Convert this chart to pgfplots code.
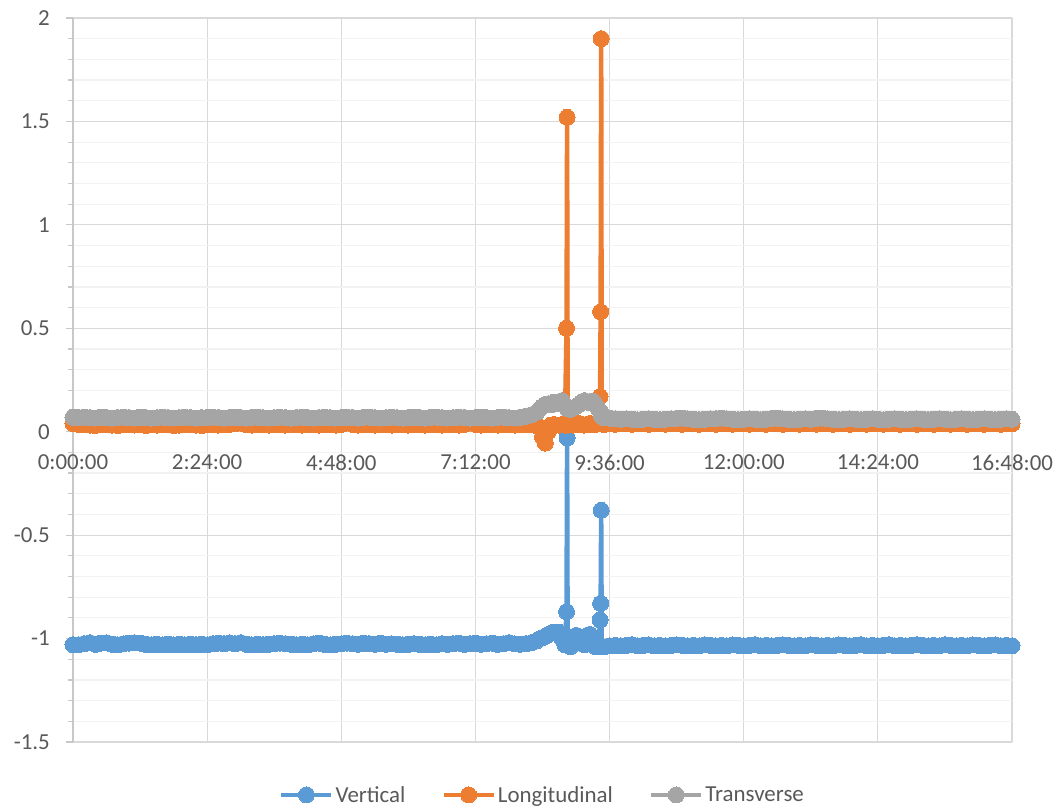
\documentclass[border=0pt]{standalone}
\usepackage{pgfplots}
\pgfplotsset{compat=1.18}
\usepackage{pgfplotstable}
\usepackage{fontspec}
\setmainfont{Carlito}

\definecolor{vert}{HTML}{5B9BD5}
\definecolor{longi}{HTML}{ED7D31}
\definecolor{trans}{HTML}{A5A5A5}
\definecolor{txt}{HTML}{595959}
\definecolor{majgrid}{HTML}{D9D9D9}
\definecolor{mingrid}{HTML}{F2F2F2}
\definecolor{axisgray}{HTML}{C8C8C8}

% time in hours, then the three accelerations
\pgfplotstableread{
t v l r
0.0 -1.030 0.040 0.070
0.1 -1.030 0.035 0.068
0.2 -1.025 0.035 0.070
0.3 -1.020 0.032 0.068
0.4 -1.028 0.030 0.066
0.5 -1.022 0.035 0.070
0.6 -1.020 0.035 0.068
0.7 -1.028 0.032 0.066
0.8 -1.030 0.030 0.068
0.9 -1.025 0.035 0.070
1.0 -1.022 0.035 0.068
1.1 -1.020 0.032 0.066
1.2 -1.022 0.035 0.070
1.3 -1.028 0.030 0.068
1.4 -1.030 0.035 0.066
1.5 -1.028 0.032 0.068
1.6 -1.030 0.035 0.070
1.7 -1.028 0.035 0.068
1.8 -1.030 0.030 0.066
1.9 -1.028 0.032 0.068
2.0 -1.030 0.035 0.070
2.1 -1.028 0.035 0.068
2.2 -1.030 0.032 0.066
2.3 -1.028 0.030 0.068
2.4 -1.030 0.035 0.069
2.5 -1.025 0.035 0.070
2.6 -1.022 0.032 0.068
2.7 -1.025 0.035 0.066
2.8 -1.020 0.035 0.068
2.9 -1.025 0.038 0.070
3.0 -1.020 0.042 0.068
3.1 -1.028 0.035 0.066
3.2 -1.030 0.032 0.069
3.3 -1.028 0.035 0.070
3.4 -1.030 0.035 0.068
3.5 -1.028 0.032 0.066
3.6 -1.025 0.035 0.068
3.7 -1.022 0.035 0.070
3.8 -1.025 0.032 0.068
3.9 -1.028 0.035 0.066
4.0 -1.030 0.035 0.068
4.1 -1.028 0.032 0.070
4.2 -1.030 0.035 0.068
4.3 -1.025 0.035 0.066
4.4 -1.022 0.032 0.068
4.5 -1.028 0.035 0.070
4.6 -1.030 0.035 0.068
4.7 -1.028 0.032 0.066
4.8 -1.025 0.035 0.068
4.9 -1.022 0.042 0.070
5.0 -1.025 0.035 0.068
5.1 -1.028 0.032 0.066
5.2 -1.022 0.035 0.069
5.3 -1.025 0.035 0.070
5.4 -1.028 0.032 0.068
5.5 -1.022 0.035 0.066
5.6 -1.028 0.035 0.068
5.7 -1.025 0.032 0.070
5.8 -1.028 0.035 0.068
5.9 -1.030 0.035 0.066
6.0 -1.028 0.032 0.068
6.1 -1.025 0.035 0.070
6.2 -1.028 0.035 0.068
6.3 -1.030 0.032 0.066
6.4 -1.028 0.035 0.069
6.5 -1.030 0.035 0.070
6.6 -1.025 0.032 0.068
6.7 -1.028 0.035 0.066
6.8 -1.025 0.035 0.068
6.9 -1.022 0.032 0.070
7.0 -1.028 0.035 0.068
7.1 -1.025 0.042 0.066
7.2 -1.022 0.035 0.068
7.3 -1.028 0.032 0.070
7.4 -1.025 0.035 0.068
7.5 -1.022 0.035 0.066
7.6 -1.028 0.032 0.069
7.7 -1.025 0.035 0.070
7.8 -1.020 0.035 0.068
7.9 -1.025 0.032 0.066
8.0 -1.028 0.035 0.069
8.1 -1.025 0.035 0.074
8.2 -1.020 0.035 0.082
8.3 -1.010 0.032 0.095
8.35 -1.000 0.020 0.110
8.4 -0.995 -0.025 0.122
8.45 -0.990 -0.055 0.132
8.5 -0.980 0.000 0.135
8.55 -0.975 0.032 0.130
8.6 -0.970 0.035 0.142
8.65 -0.975 0.032 0.135
8.7 -0.970 0.032 0.142
8.75 -1.000 0.035 0.150
8.8 -1.030 0.032 0.130
8.83 -0.870 0.500 0.120
8.84 -0.030 1.520 0.120
8.85 -1.030 0.032 0.110
8.9 -1.040 0.035 0.108
8.95 -1.000 0.032 0.115
9.0 -0.985 0.035 0.122
9.05 -0.990 0.040 0.132
9.1 -0.995 0.035 0.142
9.15 -1.030 0.032 0.150
9.2 -0.985 0.035 0.145
9.25 -0.980 0.040 0.140
9.3 -1.000 0.035 0.148
9.35 -1.040 0.035 0.130
9.4 -1.040 0.040 0.110
9.43 -0.910 0.170 0.100
9.44 -0.830 0.580 0.090
9.45 -0.380 1.900 0.082
9.46 -1.040 0.040 0.074
9.5 -1.040 0.035 0.068
9.6 -1.035 0.038 0.065
9.7 -1.033 0.036 0.062
9.8 -1.035 0.038 0.060
9.9 -1.033 0.038 0.062
10.0 -1.030 0.036 0.060
10.1 -1.035 0.038 0.058
10.2 -1.033 0.038 0.060
10.3 -1.030 0.036 0.062
10.4 -1.035 0.038 0.060
10.5 -1.033 0.038 0.058
10.6 -1.035 0.036 0.060
10.7 -1.033 0.038 0.062
10.8 -1.030 0.038 0.064
10.9 -1.033 0.036 0.066
11.0 -1.035 0.038 0.062
11.1 -1.033 0.038 0.060
11.2 -1.035 0.036 0.058
11.3 -1.030 0.038 0.060
11.4 -1.033 0.038 0.062
11.5 -1.035 0.036 0.063
11.6 -1.033 0.038 0.066
11.7 -1.035 0.038 0.062
11.8 -1.030 0.036 0.060
11.9 -1.033 0.038 0.058
12.0 -1.035 0.038 0.060
12.1 -1.033 0.036 0.062
12.2 -1.030 0.038 0.060
12.3 -1.035 0.038 0.058
12.4 -1.033 0.036 0.060
12.5 -1.035 0.038 0.064
12.6 -1.033 0.038 0.066
12.7 -1.030 0.036 0.062
12.8 -1.033 0.038 0.060
12.9 -1.035 0.038 0.058
13.0 -1.033 0.036 0.060
13.1 -1.035 0.038 0.062
13.2 -1.030 0.038 0.060
13.3 -1.033 0.036 0.064
13.4 -1.035 0.038 0.066
13.5 -1.033 0.038 0.062
13.6 -1.035 0.036 0.060
13.7 -1.030 0.038 0.058
13.8 -1.033 0.038 0.060
13.9 -1.035 0.036 0.062
14.0 -1.033 0.038 0.060
14.1 -1.030 0.038 0.058
14.2 -1.035 0.036 0.060
14.3 -1.033 0.038 0.062
14.4 -1.035 0.038 0.060
14.5 -1.033 0.036 0.058
14.6 -1.030 0.038 0.060
14.7 -1.035 0.038 0.062
14.8 -1.033 0.036 0.060
14.9 -1.035 0.038 0.058
15.0 -1.033 0.038 0.060
15.1 -1.030 0.036 0.062
15.2 -1.033 0.038 0.060
15.3 -1.035 0.038 0.058
15.4 -1.033 0.036 0.060
15.5 -1.035 0.038 0.062
15.6 -1.030 0.038 0.060
15.7 -1.033 0.036 0.058
15.8 -1.035 0.038 0.060
15.9 -1.033 0.038 0.062
16.0 -1.035 0.036 0.060
16.1 -1.030 0.038 0.058
16.2 -1.033 0.038 0.060
16.3 -1.035 0.036 0.062
16.4 -1.033 0.038 0.060
16.5 -1.030 0.038 0.058
16.6 -1.035 0.036 0.060
16.7 -1.033 0.038 0.062
16.8 -1.035 0.038 0.060
}\accel

\begin{document}
\begin{tikzpicture}
\useasboundingbox (0,0) rectangle (1059bp,809bp);
\begin{axis}[
    at={(73bp,67bp)}, anchor=south west,
    scale only axis, width=939bp, height=724bp,
    xmin=0, xmax=16.8, ymin=-1.5, ymax=2,
    axis x line=middle, axis y line=left,
    axis line style={-, draw=axisgray, line width=1.2bp},
    x axis line style={-}, y axis line style={-},
    hide obscured x ticks=false, hide obscured y ticks=false,
    xtick={0,2.4,4.8,7.2,9.6,12,14.4,16.8},
    xticklabels={0:00:00,2:24:00,4:48:00,7:12:00,9:36:00,12:00:00,14:24:00,16:48:00},
    ytick={-1.5,-1,-0.5,0,0.5,1,1.5,2},
    yticklabels={-1.5,-1,-0.5,0,0.5,1,1.5,2},
    minor y tick num=4,
    xmajorgrids, ymajorgrids, yminorgrids,
    major grid style={draw=majgrid, line width=1.2bp},
    minor grid style={draw=mingrid, line width=1.2bp},
    tick align=outside, major tick length=7bp, minor tick length=5bp,
    xtick style={draw=none},
    ytick style={draw=axisgray, line width=1.2bp},
    tick label style={font=\fontsize{23}{27}\selectfont, text=txt},
    yticklabel style={inner sep=0pt, xshift=-16bp},
    xticklabel style={inner sep=0pt, yshift=-16bp},
    clip=false,
    legend columns=-1,
    legend style={at={(0.5,-0.073)}, anchor=center, draw=none, fill=none,
        font=\fontsize{23}{27}\selectfont, text=txt,
        /tikz/every even column/.append style={column sep=34bp}},
    legend image code/.code={\draw[mark repeat=2,mark phase=2,#1]
        plot coordinates {(0bp,0bp) (25bp,0bp) (50bp,0bp)};},
    every axis plot/.append style={line width=4.5bp, mark=*, mark size=8bp},
]
\addplot[vert, mark options={fill=vert, draw=vert, line width=0pt}] table[x=t, y=v] {\accel};
\addlegendentry{Vertical}
\addplot[longi, mark options={fill=longi, draw=longi, line width=0pt}] table[x=t, y=l] {\accel};
\addlegendentry{Longitudinal}
\addplot[trans, mark options={fill=trans, draw=trans, line width=0pt}] table[x=t, y=r] {\accel};
\addlegendentry{Transverse}
\end{axis}
\end{tikzpicture}
\end{document}
